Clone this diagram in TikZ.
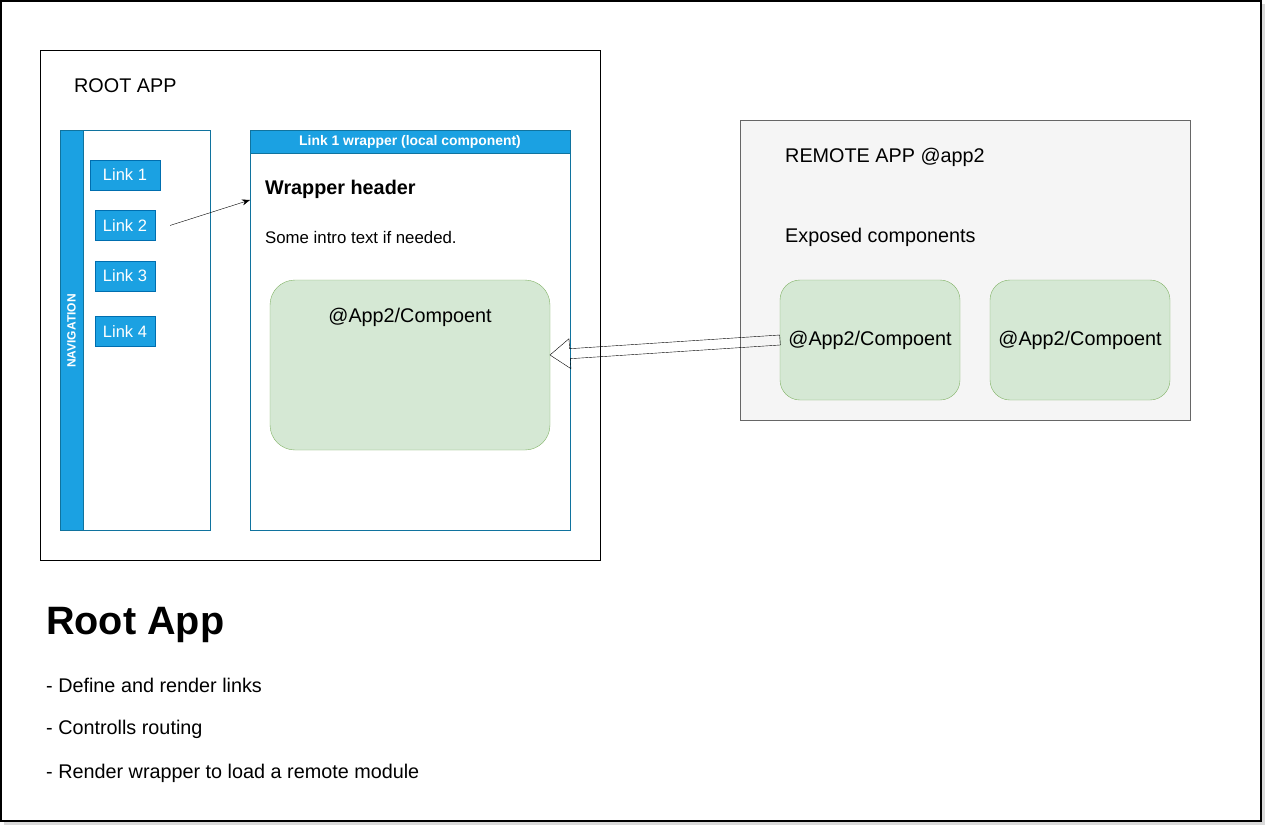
\documentclass[tikz,border=0pt]{standalone}
\usepackage{fontspec}
\setmainfont{Liberation Sans}
\usetikzlibrary{positioning, calc, arrows.meta}
\definecolor{linkblue}{HTML}{1BA1E2}
\definecolor{linkedge}{HTML}{006EAF}
\definecolor{paneedge}{HTML}{10739E}
\definecolor{compfill}{HTML}{D5E8D4}
\definecolor{compedge}{HTML}{82B366}
\definecolor{remfill}{HTML}{F5F5F5}
\definecolor{remedge}{HTML}{666666}
\tikzset{
	x=1pt, y=-1pt,
	>={Stealth[length=8pt, width=6pt]},
	line width=1pt,
	box/.style={draw, anchor=north west, inner sep=0pt, outer sep=0pt},
	pane/.style={box, draw=paneedge},
	linkbox/.style={draw=linkedge, fill=linkblue, text=white, inner sep=0pt, minimum height=30pt, font=\fontsize{16.5}{19}\selectfont},
	compbox/.style={box, fill=compfill, draw=compedge},
	plaintext/.style={anchor=west, inner sep=0pt, font=\fontsize{19.8}{24}\selectfont},
	comptext/.style={font=\fontsize{19.8}{24}\selectfont},
}
\begin{document}
\begin{tikzpicture}
	\useasboundingbox (0,0) rectangle (1272,833);
	\fill[black!15] (4,4) rectangle (1265,825);
	\draw[fill=white, line width=1.6pt] (1,1) rectangle (1261,821);

	% root app
	\node[box, minimum width=560pt, minimum height=510pt] (ROOT) at (40,50) {};
	\node[plaintext] (ROOTTITLE) at (74,86) {ROOT APP};

	% navigation
	\node[pane, minimum width=150pt, minimum height=400pt] (NAV) at (60,130) {};
	\node[box, draw=paneedge, fill=linkblue, minimum width=23pt, minimum height=400pt] (NAVBAR) at (60,130) {};
	\node[rotate=90, text=white, inner sep=0pt, font=\bfseries\fontsize{12}{14}\selectfont] (NAVTXT) at (71.5,331) {NAVIGATION};
	\node[linkbox, minimum width=70pt] (LINK1) at (125,175) {Link 1};
	\node[linkbox, minimum width=60pt, below=20pt of LINK1] (LINK2) {Link 2};
	\node[linkbox, minimum width=60pt, below=20pt of LINK2] (LINK3) {Link 3};
	\node[linkbox, minimum width=60pt, below=25pt of LINK3] (LINK4) {Link 4};

	% wrapper
	\node[pane, minimum width=320pt, minimum height=400pt] (WRAP) at (250,130) {};
	\node[box, draw=paneedge, fill=linkblue, text=white, minimum width=320pt, minimum height=23pt, font=\bfseries\fontsize{13.9}{16}\selectfont] (WRAPHEAD) at (WRAP.north west) {Link 1 wrapper (local component)};
	\node[plaintext, font=\bfseries\fontsize{19.8}{24}\selectfont] (WRAPTITLE) at (265,189) {Wrapper header};
	\node[plaintext, font=\fontsize{16.8}{20}\selectfont] (WRAPINTRO) at (265,237) {Some intro text if needed.};
	\node[compbox, rounded corners=25pt, minimum width=280pt, minimum height=170pt] (COMP) at (270,280) {};
	\node[comptext] (COMPTXT) at ($(COMP.north)+(0,37)$) {@App2/Compoent};

	\draw[->] ($(LINK2.east)+(15,0)$) -- ($(WRAP.north west)+(0,70)$);

	% remote app
	\node[box, draw=remedge, fill=remfill, minimum width=450pt, minimum height=300pt] (REMOTE) at (740,120) {};
	\node[plaintext] (REMTITLE) at (785,157) {REMOTE APP @app2};
	\node[plaintext] (REMSUB) at (785,237) {Exposed components};
	\node[compbox, rounded corners=20pt, minimum width=180pt, minimum height=120pt, comptext] (REMA) at (780,280) {@App2/Compoent};
	\node[compbox, rounded corners=20pt, minimum width=180pt, minimum height=120pt, comptext] (REMB) at (990,280) {@App2/Compoent};

	% hollow block arrow
	\coordinate (S) at (REMA.west);
	\coordinate (T) at ($(COMP.east)+(0,-10)$);
	\coordinate (H) at ($(T)!20pt!(S)$);
	\draw[line join=miter] ($(S)!5pt!90:(T)$) -- ($(H)!5pt!-90:(S)$) -- ($(H)!15pt!-90:(S)$) -- (T)
		-- ($(H)!15pt!90:(S)$) -- ($(H)!5pt!90:(S)$) -- ($(S)!5pt!-90:(T)$) -- cycle;

	% notes
	\node[plaintext, font=\bfseries\fontsize{39.6}{46}\selectfont] (NOTETITLE) at (46,625) {Root App};
	\node[plaintext] (NOTE1) at (46,685) {- Define and render links};
	\node[plaintext] (NOTE2) at (46,729) {- Controlls routing};
	\node[plaintext] (NOTE3) at (46,773) {- Render wrapper to load a remote module};
\end{tikzpicture}
\end{document}
